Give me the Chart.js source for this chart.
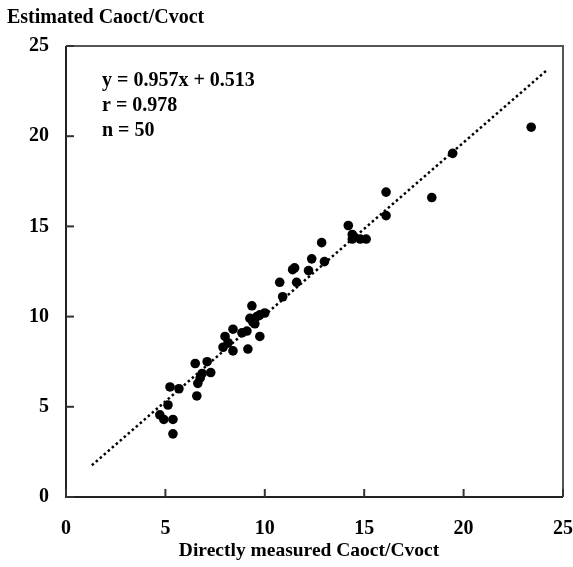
<!DOCTYPE html>
<html>
<head>
<meta charset="utf-8">
<script src="https://cdn.jsdelivr.net/npm/chart.js@4.4.1/dist/chart.umd.min.js"></script>
<style>
  html, body { margin: 0; padding: 0; background: #fff; }
  #wrap { width: 573px; height: 567px; position: relative; }
</style>
</head>
<body>
<div id="wrap"><canvas id="c" width="573" height="567"></canvas></div>
<script>
const measuredX = [4.72, 4.92, 5.38, 5.38, 5.13, 5.23, 5.68, 6.58, 6.63, 6.85, 7.28, 6.5, 7.1, 6.75,
  7.9, 8.0, 8.15, 8.4, 8.4, 8.85, 9.1, 9.15, 9.75, 9.4, 9.25, 9.6, 9.75, 9.35, 10.0, 9.5,
  10.9, 10.75, 11.6, 11.4, 11.5, 12.2, 12.36, 13.0, 12.86,
  14.2, 14.4, 14.4, 14.8, 15.1, 14.5, 16.1, 16.1, 18.4, 19.45, 23.4];
const estimatedY = [4.55, 4.3, 4.3, 3.5, 5.1, 6.1, 6.0, 5.6, 6.3, 6.85, 6.9, 7.4, 7.5, 6.6,
  8.3, 8.9, 8.55, 8.1, 9.3, 9.1, 9.2, 8.2, 8.9, 9.7, 9.9, 10.0, 10.1, 10.6, 10.2, 9.6,
  11.1, 11.9, 11.9, 12.6, 12.7, 12.55, 13.2, 13.05, 14.1,
  15.05, 14.55, 14.3, 14.3, 14.3, 14.4, 16.9, 15.6, 16.6, 19.05, 20.5];
const slope = 0.957, intercept = 0.513;
const fitRangeX = [1.3, 24.2];
const tickValues = [0, 5, 10, 15, 20, 25];
const statLines = ["y = 0.957x + 0.513", "r = 0.978", "n = 50"];
const yTitle = "Estimated Caoct/Cvoct";
const xTitle = "Directly measured Caoct/Cvoct";

const points = measuredX.map((x, i) => ({ x: x, y: estimatedY[i] }));
const fitPoints = fitRangeX.map(x => ({ x: x, y: slope * x + intercept }));

const FONT = "'Liberation Serif', 'Times New Roman', serif";

const decor = {
  id: 'decor',
  afterDraw(chart) {
    const ctx = chart.ctx, a = chart.chartArea;
    const xs = chart.scales.x, ys = chart.scales.y;
    ctx.save();
    ctx.strokeStyle = '#555';
    ctx.lineWidth = 2;
    ctx.beginPath();
    ctx.moveTo(a.left, a.top); ctx.lineTo(a.right, a.top); ctx.lineTo(a.right, a.bottom);
    ctx.stroke();
    ctx.strokeStyle = '#222';
    ctx.beginPath();
    ctx.moveTo(a.left, a.top); ctx.lineTo(a.left, a.bottom); ctx.lineTo(a.right, a.bottom);
    ctx.stroke();
    ctx.strokeStyle = '#333';
    ctx.lineWidth = 2;
    tickValues.forEach(v => {
      const px = xs.getPixelForValue(v);
      ctx.beginPath(); ctx.moveTo(px, a.bottom); ctx.lineTo(px, a.bottom - 8); ctx.stroke();
      const py = ys.getPixelForValue(v);
      ctx.beginPath(); ctx.moveTo(a.left, py); ctx.lineTo(a.left + 8, py); ctx.stroke();
    });
    ctx.fillStyle = '#000';
    ctx.textBaseline = 'middle';
    ctx.textAlign = 'left';
    ctx.font = "bold 20px " + FONT;
    ctx.fillText(yTitle, 7, 18);
    statLines.forEach((t, i) => ctx.fillText(t, 102, 81 + i * 25));
    ctx.textAlign = 'center';
    ctx.font = "bold 19.5px " + FONT;
    ctx.fillText(xTitle, 309, 551);
    ctx.restore();
  }
};

new Chart(document.getElementById('c'), {
  type: 'scatter',
  data: {
    datasets: [
      {
        data: points,
        backgroundColor: '#000',
        borderColor: '#000',
        pointStyle: 'circle',
        pointRadius: 4.8,
        pointBorderWidth: 0,
        order: 1
      },
      {
        type: 'line',
        data: fitPoints,
        borderColor: '#000',
        borderWidth: 2.5,
        borderDash: [2.5, 2.8],
        pointRadius: 0,
        fill: false,
        order: 2
      }
    ]
  },
  options: {
    responsive: false,
    animation: false,
    events: [],
    layout: { padding: { top: 46, right: 10, left: 0, bottom: 0 } },
    plugins: { legend: { display: false }, tooltip: { enabled: false }, title: { display: false } },
    scales: {
      x: {
        type: 'linear', min: 0, max: 25,
        afterBuildTicks: s => { s.ticks = tickValues.map(v => ({ value: v })); },
        afterFit: s => { s.height = 70; s.paddingRight = 0; s.paddingLeft = 0; },
        grid: { display: false },
        border: { display: false },
        ticks: { color: '#000', font: { family: FONT, size: 20, weight: 'bold' }, padding: 12, maxRotation: 0 }
      },
      y: {
        type: 'linear', min: 0, max: 25,
        afterBuildTicks: s => { s.ticks = tickValues.map(v => ({ value: v })); },
        afterFit: s => { s.width = 66; s.paddingTop = 0; s.paddingBottom = 0; },
        grid: { display: false },
        border: { display: false },
        ticks: { color: '#000', font: { family: FONT, size: 20, weight: 'bold' }, padding: 9 }
      }
    }
  },
  plugins: [decor]
});
</script>
</body>
</html>
